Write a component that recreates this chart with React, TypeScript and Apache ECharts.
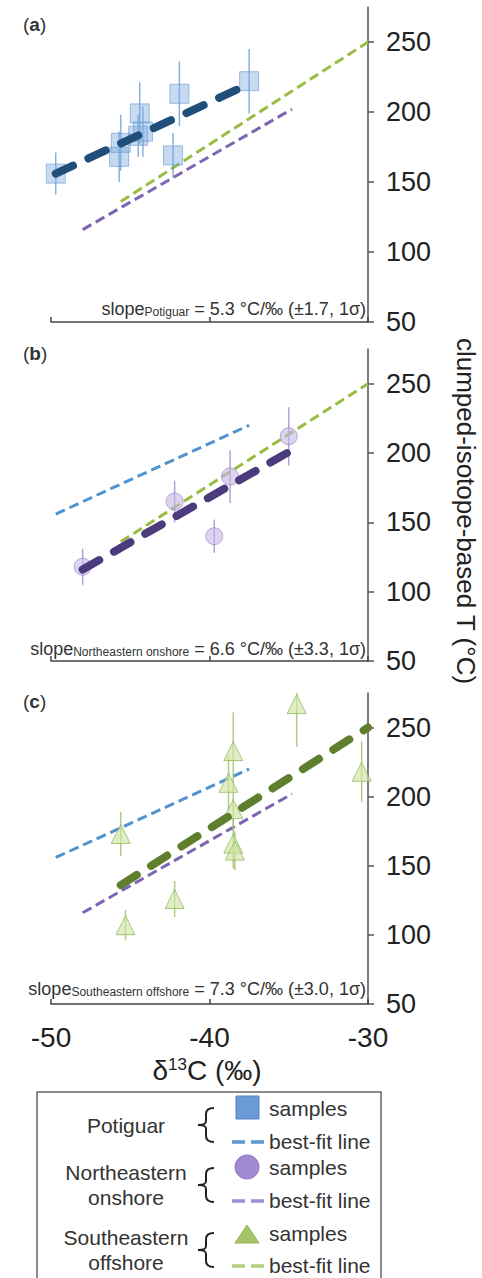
import React, { useEffect, useRef } from "react";
import * as echarts from "echarts";

// ---------- data ----------
const potiguarX = [-49.7, -45.7, -45.6, -44.5, -44.4, -44.2, -42.3, -41.9, -37.5];
const potiguarT = [156, 168, 178, 183, 199, 186, 169, 213, 222];
const potiguarErr = [15, 18, 20, 15, 22, 18, 16, 23, 23];

const neX = [-48.0, -42.2, -39.7, -38.7, -35.0];
const neT = [118, 165, 140, 183, 212];
const neErr = [13, 15, 12, 19, 21];

const seX = [-45.6, -45.3, -42.2, -38.8, -38.5, -38.5, -38.5, -38.4, -34.5, -30.4];
const seT = [173, 107, 126, 210, 233, 191, 166, 161, 267, 218];
const seErr = [16, 11, 13, 20, 28, 16, 18, 14, 31, 22];

const potiguarFitX = [-49.7, -37.5];
const potiguarFitT = [156, 220];
const neFitX = [-48.0, -34.8];
const neFitT = [116, 202];
const seFitX = [-45.6, -30.0];
const seFitT = [136, 250];

const xTicks = [-50, -40, -30];
const yTicks = [50, 100, 150, 200, 250];

const panelLabels = ["a", "b", "c"];
const slopeNames = ["Potiguar", "Northeastern onshore", "Southeastern offshore"];
const slopeTexts = [
  " = 5.3 °C/‰ (±1.7, 1σ)",
  " = 6.6 °C/‰ (±3.3, 1σ)",
  " = 7.3 °C/‰ (±3.0, 1σ)",
];

const FONT = "'Liberation Sans', Arial, Helvetica, sans-serif";

const BRACE_D =
  "M18 1 C12 1 10 3 10 7 L10 14 C10 17 8 18 2 18 C8 18 10 19 10 22 L10 29 C10 33 12 35 18 35";
try {
  echarts.graphic.registerShape("brace", echarts.graphic.extendPath(BRACE_D, {}) as any);
} catch (e) {}

const zip = (xs: number[], ys: number[]) => xs.map((x, i) => [x, ys[i]]);
const zip3 = (xs: number[], ys: number[], es: number[]) => xs.map((x, i) => [x, ys[i], es[i]]);

const COL = {
  blueThin: "#4f94cf",
  purpleThin: "#7d65b3",
  greenThin: "#98bc44",
  blueThick: "#1f4e79",
  purpleThick: "#4b3b7c",
  greenThick: "#5f7f2e",
};

function thinLine(grid: number, xs: number[], ys: number[], color: string) {
  return {
    type: "line",
    xAxisIndex: grid,
    yAxisIndex: grid,
    data: zip(xs, ys),
    showSymbol: false,
    symbol: "none",
    silent: true,
    z: 2,
    lineStyle: { color, width: 3, type: [10, 5] },
  };
}
function thickLine(grid: number, xs: number[], ys: number[], color: string) {
  return {
    type: "line",
    xAxisIndex: grid,
    yAxisIndex: grid,
    data: zip(xs, ys),
    showSymbol: false,
    symbol: "none",
    silent: true,
    z: 5,
    lineStyle: { color, width: 8, type: [19, 17], cap: "round" },
  };
}
function errBars(grid: number, xs: number[], ys: number[], es: number[], color: string) {
  return {
    type: "custom",
    xAxisIndex: grid,
    yAxisIndex: grid,
    data: zip3(xs, ys, es),
    clip: true,
    z: 3,
    encode: { x: 0, y: 1 },
    renderItem: (params: any, api: any) => {
      const x = api.value(0);
      const y = api.value(1);
      const e = api.value(2);
      const p1 = api.coord([x, y - e]);
      const p2 = api.coord([x, y + e]);
      return {
        type: "line",
        shape: { x1: p1[0], y1: p1[1], x2: p2[0], y2: p2[1] },
        style: { stroke: color, lineWidth: 1.5 },
      };
    },
  };
}
function markers(grid: number, xs: number[], ys: number[], symbol: string, size: number, fill: string, stroke: string) {
  return {
    type: "scatter",
    xAxisIndex: grid,
    yAxisIndex: grid,
    data: zip(xs, ys),
    symbol,
    symbolSize: size,
    z: 4,
    itemStyle: { color: fill, borderColor: stroke, borderWidth: 1 },
  };
}

export default function App() {
  const ref = useRef<HTMLDivElement>(null);
  useEffect(() => {
    if (!ref.current) return;
    const chart = echarts.init(ref.current, null, { renderer: "svg" });

    const grids = [
      { left: 51, top: 7, width: 317, height: 315 },
      { left: 51, top: 349, width: 317, height: 312 },
      { left: 51, top: 693, width: 317, height: 311 },
    ];

    const xAxes = grids.map((_, i) => ({
      type: "value",
      gridIndex: i,
      min: -50,
      max: -30,
      interval: 10,
      axisLine: { show: true, onZero: false, lineStyle: { color: "#444", width: 1.5 } },
      axisTick: { show: true, inside: true, length: 5, lineStyle: { color: "#444", width: 1.5 } },
      axisLabel: {
        show: i === 2,
        fontSize: 28,
        color: "#222",
        fontFamily: FONT,
        margin: 19,
        customValues: xTicks,
      },
      splitLine: { show: false },
    }));

    const yAxes = grids.map((_, i) => ({
      type: "value",
      gridIndex: i,
      position: "right",
      min: 50,
      max: 275,
      interval: 50,
      axisLine: { show: true, onZero: false, lineStyle: { color: "#555", width: 1.5 } },
      axisTick: {
        show: true,
        inside: false,
        length: 6,
        lineStyle: { color: "#555", width: 1.5 },
        customValues: yTicks,
      },
      axisLabel: {
        fontSize: 27,
        color: "#222",
        fontFamily: FONT,
        margin: 18,
        customValues: yTicks,
      },
      splitLine: { show: false },
    }));

    const series: any[] = [
      // panel a
      thinLine(0, seFitX, seFitT, COL.greenThin),
      thinLine(0, neFitX, neFitT, COL.purpleThin),
      errBars(0, potiguarX, potiguarT, potiguarErr, "rgba(100,150,210,0.75)"),
      markers(0, potiguarX, potiguarT, "rect", 19, "rgba(125,172,224,0.55)", "rgba(95,145,205,0.7)"),
      thickLine(0, potiguarFitX, potiguarFitT, COL.blueThick),
      // panel b
      thinLine(1, potiguarFitX, potiguarFitT, COL.blueThin),
      thinLine(1, seFitX, seFitT, COL.greenThin),
      errBars(1, neX, neT, neErr, "rgba(160,140,205,0.8)"),
      markers(1, neX, neT, "circle", 17, "rgba(196,182,228,0.75)", "rgba(150,128,200,0.8)"),
      thickLine(1, neFitX, neFitT, COL.purpleThick),
      // panel c
      thinLine(2, potiguarFitX, potiguarFitT, COL.blueThin),
      thinLine(2, neFitX, neFitT, COL.purpleThin),
      errBars(2, seX, seT, seErr, "rgba(160,195,110,0.85)"),
      markers(2, seX, seT, "triangle", 19, "rgba(208,228,165,0.8)", "rgba(140,180,85,0.9)"),
      thickLine(2, seFitX, seFitT, COL.greenThick),
    ];

    const graphics: any[] = [];
    const labelY = [24, 353, 701];
    const slopeY = [308, 648, 988];
    panelLabels.forEach((l, i) => {
      graphics.push({
        type: "text",
        x: 23,
        y: labelY[i],
        style: {
          text: `{n|(}{b|${l}}{n|)}`,
          verticalAlign: "middle",
          rich: {
            n: { fontSize: 19, fontFamily: FONT, fill: "#333" },
            b: { fontSize: 19, fontFamily: FONT, fontWeight: "bold", fill: "#333" },
          },
        },
      });
      graphics.push({
        type: "text",
        x: 366,
        y: slopeY[i],
        style: {
          text: `{m|slope}{s|${slopeNames[i]}}{m|${slopeTexts[i]}}`,
          align: "right",
          verticalAlign: "middle",
          rich: {
            m: { fontSize: 18, fontFamily: FONT, fill: "#333", lineHeight: 20, verticalAlign: "bottom" },
            s: { fontSize: 12, fontFamily: FONT, fill: "#333", lineHeight: 10, verticalAlign: "bottom" },
          },
        },
      });
    });

    // y axis title
    graphics.push({
      type: "text",
      x: 466,
      y: 511,
      rotation: -Math.PI / 2,
      style: {
        text: "clumped-isotope-based T (°C)",
        fontSize: 26,
        fontFamily: FONT,
        fill: "#222",
        align: "center",
        verticalAlign: "middle",
      },
    });
    // x axis title
    graphics.push({
      type: "text",
      x: 207,
      y: 1072,
      style: {
        text: "{m|δ}{sup|13}{m|C (‰)}",
        align: "center",
        verticalAlign: "middle",
        rich: {
          m: { fontSize: 28, fontFamily: FONT, fill: "#222", lineHeight: 32, verticalAlign: "top" },
          sup: { fontSize: 17, fontFamily: FONT, fill: "#222", lineHeight: 20, verticalAlign: "top" },
        },
      },
    });

    // legend
    graphics.push({
      type: "rect",
      shape: { x: 37, y: 1092, width: 344, height: 200 },
      style: { fill: "#fff", stroke: "#666", lineWidth: 1.5 },
      z: 0,
    });
    const legendFont = { fontSize: 21, fontFamily: FONT, fill: "#333" };
    const groupTexts = [
      { t: "Potiguar", y: 1125 },
      { t: "Northeastern", y: 1172 },
      { t: "onshore", y: 1197 },
      { t: "Southeastern", y: 1237 },
      { t: "offshore", y: 1262 },
    ];
    groupTexts.forEach((g) => {
      graphics.push({
        type: "text",
        x: 126,
        y: g.y,
        style: { text: g.t, ...legendFont, align: "center", verticalAlign: "middle" },
      });
    });
    [1107, 1167, 1232].forEach((by) => {
      graphics.push({
        type: "brace",
        x: 196,
        y: by,
        style: { stroke: "#222", fill: "none", lineWidth: 2 },
      });
    });
    const sampleY = [1108, 1167, 1233];
    const fitY = [1141, 1200, 1265];
    sampleY.forEach((y) => {
      graphics.push({
        type: "text",
        x: 269,
        y,
        style: { text: "samples", ...legendFont, align: "left", verticalAlign: "middle" },
      });
    });
    fitY.forEach((y) => {
      graphics.push({
        type: "text",
        x: 269,
        y,
        style: { text: "best-fit line", ...legendFont, align: "left", verticalAlign: "middle" },
      });
    });
    graphics.push({
      type: "rect",
      shape: { x: 236, y: 1096, width: 23, height: 23 },
      style: { fill: "#6a9bd6", stroke: "#5585c0", lineWidth: 1 },
    });
    graphics.push({
      type: "circle",
      shape: { cx: 247, cy: 1167, r: 12 },
      style: { fill: "#a08ad0", stroke: "#8c76bd", lineWidth: 1 },
    });
    graphics.push({
      type: "polygon",
      shape: { points: [[247, 1225], [259, 1243], [235, 1243]] },
      style: { fill: "#a5c46a", stroke: "#93b45a", lineWidth: 1 },
    });
    const dashCols = ["#5b97d0", "#a08ad0", "#b5cf7f"];
    fitY.forEach((y, i) => {
      graphics.push({
        type: "line",
        shape: { x1: 232, y1: y + 1, x2: 264, y2: y + 1 },
        style: { stroke: dashCols[i], lineWidth: 3.5, lineDash: [13, 6] },
      });
    });

    chart.setOption({
      animation: false,
      backgroundColor: "#fff",
      grid: grids,
      xAxis: xAxes,
      yAxis: yAxes,
      series,
      graphic: { elements: graphics },
    });
    return () => chart.dispose();
  }, []);

  return (
    <div
      ref={ref}
      style={{ position: "absolute", left: 0, top: 0, width: 482, height: 1278 }}
    />
  );
}
